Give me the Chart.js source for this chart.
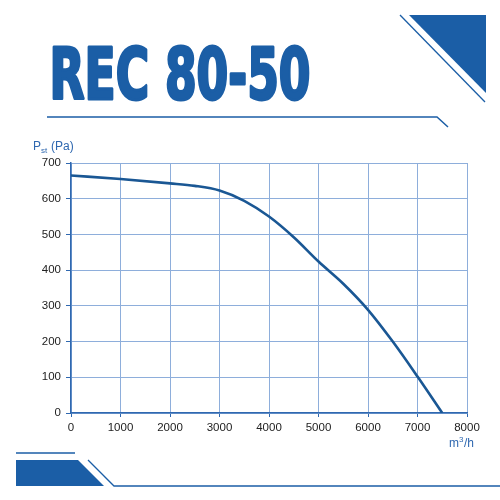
<!DOCTYPE html>
<html>
<head>
<meta charset="utf-8">
<script src="https://cdn.jsdelivr.net/npm/chart.js@4/dist/chart.umd.min.js"></script>
<style>
  html, body { margin: 0; padding: 0; background: #fff; }
  #wrap { width: 500px; height: 500px; position: relative; }
</style>
</head>
<body>
<div id="wrap"><canvas id="chart" width="500" height="500"></canvas></div>
<script>
// airflow (m3/h) vs static pressure (Pa)
const flow = [0, 1000, 2000, 2500, 3000, 3500, 4000, 4500, 5000, 5500, 6000, 6500, 7000, 7500];
const pressure = [665, 655, 643, 636, 623, 594, 550, 492, 424, 362, 289, 200, 102, 0];
const xTicks = [0, 1000, 2000, 3000, 4000, 5000, 6000, 7000, 8000];
const yTicks = [0, 100, 200, 300, 400, 500, 600, 700];

const title = 'REC 80-50';
const blue = '#1b5ea6';
const gridBlue = '#8eaedb';
const axisBlue = '#2f68b0';

// title, decorations and axis captions
const decor = {
    id: 'decor',
    beforeDraw(chart) {
        const ctx = chart.ctx;
        ctx.save();
        ctx.fillStyle = '#fff';
        ctx.fillRect(0, 0, chart.width, chart.height);
        ctx.restore();
    },
    afterDraw(chart) {
        const ctx = chart.ctx;
        ctx.save();
        // big title, squeezed horizontally and thickened
        ctx.fillStyle = blue;
        ctx.strokeStyle = blue;
        ctx.lineJoin = 'round';
        ctx.font = 'bold 71px "DejaVu Sans Condensed", "Liberation Sans Narrow", "Liberation Sans"';
        ctx.textBaseline = 'alphabetic';
        const w = ctx.measureText(title).width;
        ctx.translate(49.5, 99);
        ctx.scale(261 / w, 1);
        ctx.lineWidth = 3;
        ctx.fillText(title, 0, 0);
        ctx.strokeText(title, 0, 0);
        ctx.restore();

        ctx.save();
        ctx.fillStyle = blue;
        ctx.strokeStyle = blue;
        // top-right triangle
        ctx.beginPath();
        ctx.moveTo(409, 15); ctx.lineTo(486, 15); ctx.lineTo(486, 93); ctx.closePath();
        ctx.fill();
        ctx.lineWidth = 1.3;
        ctx.beginPath(); ctx.moveTo(400, 15); ctx.lineTo(485, 102); ctx.stroke();
        // underline under title
        ctx.lineWidth = 1.5;
        ctx.beginPath(); ctx.moveTo(47, 117); ctx.lineTo(437, 117); ctx.lineTo(448, 127); ctx.stroke();
        // bottom-left shapes
        ctx.beginPath(); ctx.moveTo(16, 453); ctx.lineTo(75, 453); ctx.stroke();
        ctx.beginPath();
        ctx.moveTo(16, 460); ctx.lineTo(78, 460); ctx.lineTo(104, 486); ctx.lineTo(16, 486); ctx.closePath();
        ctx.fill();
        ctx.lineWidth = 1.3;
        ctx.beginPath(); ctx.moveTo(88, 460); ctx.lineTo(114, 486); ctx.lineTo(500, 486); ctx.stroke();

        // axis captions
        ctx.fillStyle = axisBlue;
        ctx.textBaseline = 'alphabetic';
        ctx.font = '12px "Liberation Sans", Arial';
        ctx.fillText('P', 33, 150);
        ctx.font = '8px "Liberation Sans", Arial';
        ctx.fillText('st', 41, 153);
        ctx.font = '12px "Liberation Sans", Arial';
        ctx.fillText('(Pa)', 51, 150);
        ctx.fillText('m', 449, 447);
        ctx.font = '8px "Liberation Sans", Arial';
        ctx.fillText('3', 459, 442);
        ctx.font = '12px "Liberation Sans", Arial';
        ctx.fillText('/h', 464, 447);
        ctx.restore();
    }
};

new Chart(document.getElementById('chart').getContext('2d'), {
    type: 'line',
    data: {
        datasets: [{
            data: flow.map((x, i) => ({ x: x, y: pressure[i] })),
            borderColor: '#1a5794',
            borderWidth: 2.6,
            pointRadius: 0,
            cubicInterpolationMode: 'monotone',
            fill: false
        }]
    },
    options: {
        responsive: false,
        animation: false,
        events: [],
        layout: { padding: { top: 163, right: 33, left: 0, bottom: 0 } },
        plugins: { legend: { display: false }, tooltip: { enabled: false } },
        scales: {
            x: {
                type: 'linear',
                min: 0,
                max: 8000,
                afterBuildTicks: (s) => { s.ticks = xTicks.map(v => ({ value: v })); },
                afterFit: (s) => { s.height = 87; },
                grid: { color: gridBlue, lineWidth: 1, tickLength: 4, tickColor: axisBlue },
                border: { color: axisBlue, width: 1.5 },
                ticks: { color: '#222', padding: 4, maxRotation: 0, callback: (v) => String(v), font: { size: 11.5, family: '"Liberation Sans", Arial' } }
            },
            y: {
                type: 'linear',
                min: 0,
                max: 700,
                afterBuildTicks: (s) => { s.ticks = yTicks.map(v => ({ value: v })); },
                afterFit: (s) => { s.width = 71; },
                grid: { color: gridBlue, lineWidth: 1, tickLength: 5, tickColor: axisBlue },
                border: { color: axisBlue, width: 1.5 },
                ticks: { color: '#222', padding: 5, callback: (v) => String(v), font: { size: 11.5, family: '"Liberation Sans", Arial' } }
            }
        }
    },
    plugins: [decor]
});
</script>
</body>
</html>
